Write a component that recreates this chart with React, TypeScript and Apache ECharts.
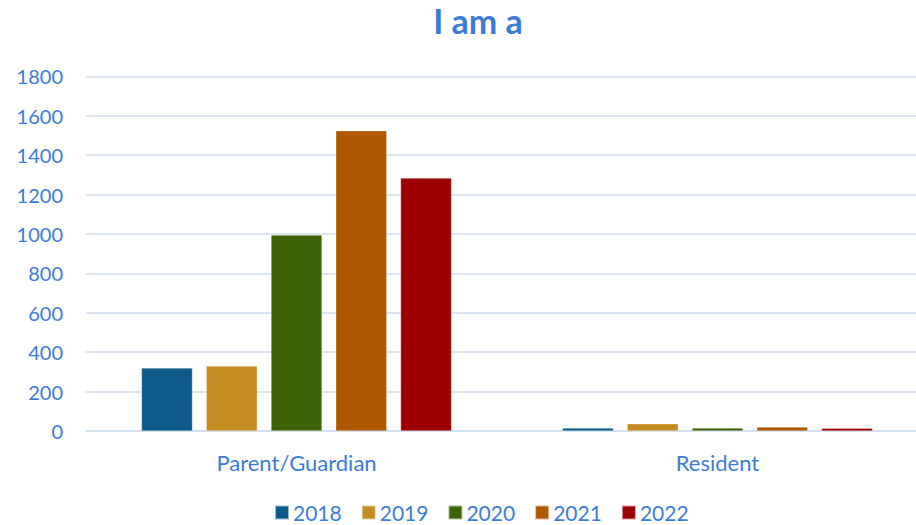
import React, { useEffect, useRef } from "react";
import * as echarts from "echarts";

const categories = ["Parent/Guardian", "Resident"];
const years = ["2018", "2019", "2020", "2021", "2022"];
const values2018 = [320, 15];
const values2019 = [330, 37];
const values2020 = [995, 15];
const values2021 = [1524, 20];
const values2022 = [1284, 14];
const colors = ["#0E5A8A", "#C38B20", "#3C6407", "#B05800", "#9C0000"];
const textBlue = "#3A7DD8";
const font = "Lato, 'Open Sans', sans-serif";

export default function App() {
  const ref = useRef<HTMLDivElement>(null);
  useEffect(() => {
    if (!ref.current) return;
    const chart = echarts.init(ref.current, undefined, { renderer: "svg" });
    const all = [values2018, values2019, values2020, values2021, values2022];
    chart.setOption({
      animation: false,
      title: {
        text: "I am a",
        left: 478,
        top: 3,
        padding: 0,
        textAlign: "center",
        textStyle: { color: textBlue, fontSize: 34, fontWeight: "bold", fontFamily: font },
      },
      legend: {
        data: years,
        left: 274,
        top: 502,
        padding: 0,
        itemWidth: 14,
        itemHeight: 14,
        itemGap: 19,
        icon: "rect",
        textStyle: {
          color: textBlue,
          fontSize: 21,
          lineHeight: 18,
          fontFamily: font,
          padding: [0, 0, 0, -1],
        },
      },
      grid: { left: 86, right: 0, top: 76.4, height: 431 - 76.4 },
      xAxis: {
        type: "category",
        data: categories,
        axisLine: { show: true, lineStyle: { color: "#D0DEEF", width: 1.5 } },
        axisTick: { show: false },
        axisLabel: { color: textBlue, fontSize: 22, fontFamily: font, margin: 20 },
      },
      yAxis: {
        type: "value",
        min: 0,
        max: 1800,
        interval: 200,
        axisLine: { show: false },
        axisTick: { show: false },
        axisLabel: {
          color: textBlue,
          fontSize: 20,
          fontFamily: font,
          margin: 23,
          formatter: (v: number) => String(v),
        },
        splitLine: { lineStyle: { color: "#D0DEEF", width: 1.5 } },
      },
      series: years.map((y, i) => ({
        name: y,
        type: "bar",
        data: all[i],
        barWidth: 51,
        barGap: "27%",
        itemStyle: { color: colors[i], borderColor: "rgba(255,255,255,0.6)", borderWidth: 0.5 },
      })),
    });
    return () => chart.dispose();
  }, []);
  return (
    <div style={{ width: 916, height: 525, position: "absolute", left: 0, top: 0, overflow: "hidden" }}>
      <div ref={ref} style={{ width: 928, height: 525 }} />
    </div>
  );
}
